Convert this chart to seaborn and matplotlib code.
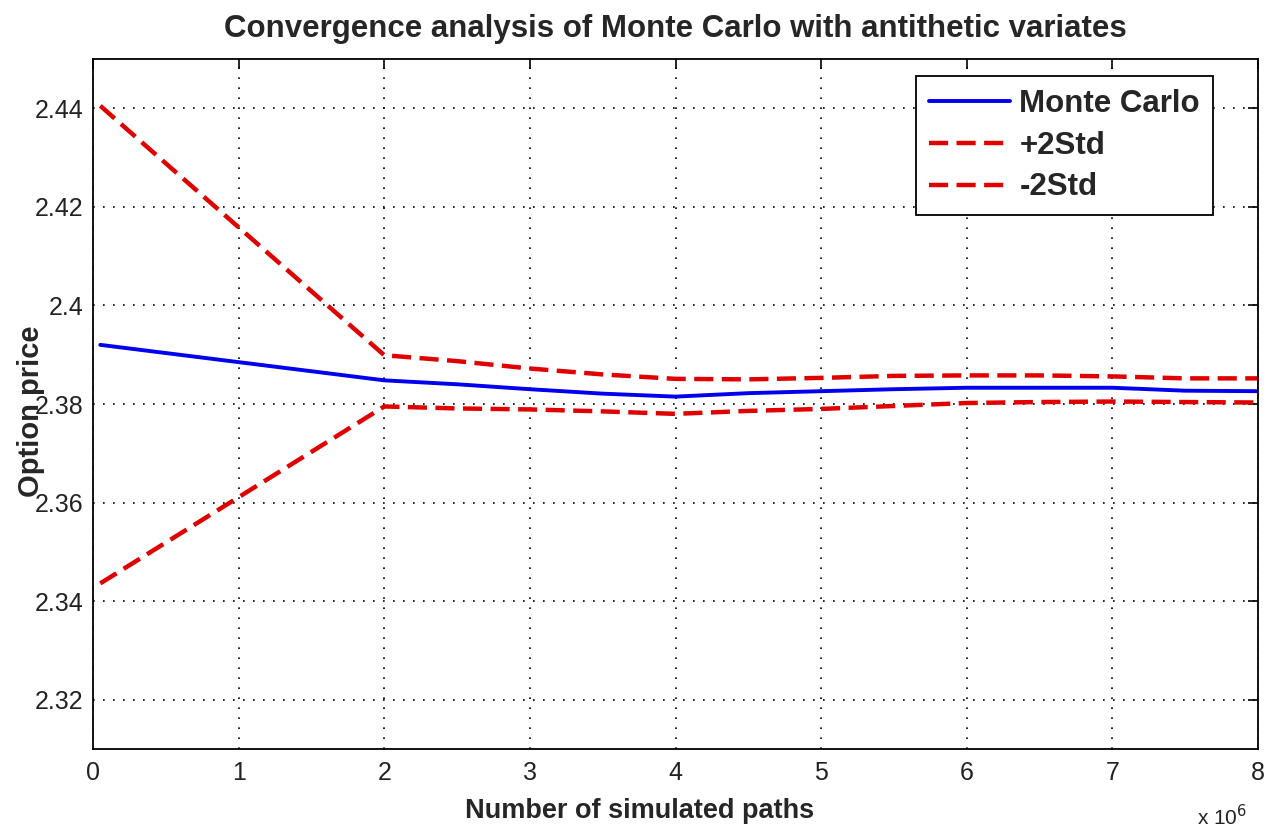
import numpy as np
import pandas as pd
import matplotlib
matplotlib.use("Agg")
import matplotlib.pyplot as plt
import seaborn as sns

# ---- data (number of paths in units of 1e6) ----
paths = [0.05, 2.0, 2.5, 3.0, 3.5, 4.0, 4.5, 5.0, 5.5, 6.0, 6.5, 7.0, 7.5, 8.0]
mc_price = [2.3920, 2.3848, 2.3840, 2.3830, 2.3821, 2.3815, 2.3822, 2.3826,
            2.3830, 2.3833, 2.3833, 2.3833, 2.3827, 2.3826]
upper_2std = [2.4405, 2.3899, 2.3887, 2.3872, 2.3860, 2.3851, 2.3850, 2.3853,
              2.3857, 2.3858, 2.3858, 2.3856, 2.3852, 2.3852]
lower_2std = [2.3436, 2.3795, 2.3791, 2.3789, 2.3785, 2.3780, 2.3786, 2.3790,
              2.3796, 2.3802, 2.3804, 2.3805, 2.3804, 2.3803]
series_names = ["Monte Carlo", "+2Std", "-2Std"]
x_ticks = [0, 1, 2, 3, 4, 5, 6, 7, 8]
y_ticks = [2.32, 2.34, 2.36, 2.38, 2.40, 2.42, 2.44]
y_tick_labels = ["2.32", "2.34", "2.36", "2.38", "2.4", "2.42", "2.44"]

df = pd.DataFrame({
    "paths": paths * 3,
    "price": mc_price + upper_2std + lower_2std,
    "series": [series_names[0]] * len(paths) + [series_names[1]] * len(paths)
              + [series_names[2]] * len(paths),
})

sns.set_style("white")
plt.rcParams["font.family"] = ["Liberation Sans", "DejaVu Sans"]

fig = plt.figure(figsize=(12.76, 8.32), dpi=100)
ax = fig.add_axes([93 / 1276, 1 - 749 / 832, (1258 - 93) / 1276, (749 - 59) / 832])

blue = "#0000ee"
red = "#e00000"
sns.lineplot(data=df[df.series == series_names[0]], x="paths", y="price",
             color=blue, linewidth=2.8, ax=ax, label=series_names[0],
             estimator=None, sort=False)
sns.lineplot(data=df[df.series == series_names[1]], x="paths", y="price",
             color=red, linewidth=3.2, ax=ax, label=series_names[1],
             estimator=None, sort=False, dashes=False)
sns.lineplot(data=df[df.series == series_names[2]], x="paths", y="price",
             color=red, linewidth=3.2, ax=ax, label=series_names[2],
             estimator=None, sort=False, dashes=False)
lines = ax.get_lines()
lines[1].set_dashes((4.3, 1.9))
lines[2].set_dashes((4.3, 1.9))

ax.set_xlim(0, 8)
ax.set_ylim(2.31, 2.45)
ax.set_xticks(x_ticks)
ax.set_xticklabels([str(t) for t in x_ticks])
ax.set_yticks(y_ticks)
ax.set_yticklabels(y_tick_labels)

ax.grid(True, color="black", linestyle=(0, (1, 5)), linewidth=1.2)
ax.tick_params(direction="in", length=7, width=1.2, top=True, right=True,
               labelsize=18, colors="black", labelcolor="#222222")
ax.tick_params(axis="y", pad=7)
ax.tick_params(axis="x", pad=9)
for s in ax.spines.values():
    s.set_visible(True)
    s.set_color("black")
    s.set_linewidth(1.3)

ax.set_title("Convergence analysis of Monte Carlo with antithetic variates",
             fontsize=22.5, fontweight="bold", pad=16)
ax.set_xlabel("Number of simulated paths", fontsize=19.5, fontweight="bold")
ax.xaxis.set_label_coords((640 - 93) / 1165, -0.071)
ax.set_ylabel("Option price", fontsize=21, fontweight="bold")
ax.yaxis.set_label_coords(-0.041, 0.49)

fig.text(1222 / 1276, 1 - 817 / 832, r"x 10$^{6}$", fontsize=15,
         ha="center", va="center", color="#222222")

leg = ax.legend(loc="upper right", bbox_to_anchor=(0.961, 0.975),
                fontsize=22.5, frameon=True, fancybox=False, framealpha=1,
                edgecolor="black", handlelength=2.6, handletextpad=0.3,
                borderpad=0.4, labelspacing=0.38, borderaxespad=0)
for t in leg.get_texts():
    t.set_fontweight("bold")
leg.get_frame().set_linewidth(1.3)

fig.savefig("out.png", dpi=100, facecolor="white")
